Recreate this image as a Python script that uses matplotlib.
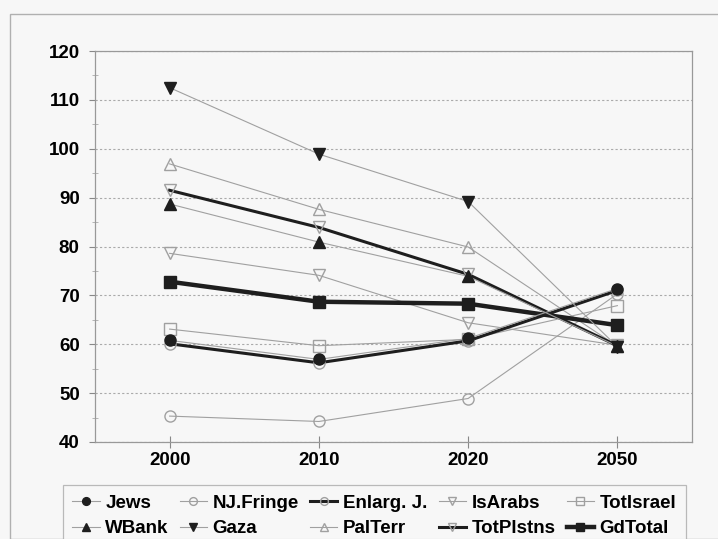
import numpy as np
import matplotlib
matplotlib.use('Agg')
import matplotlib.pyplot as plt
from matplotlib.patches import Rectangle
from matplotlib.ticker import MultipleLocator

plt.rcParams['font.family'] = ['Liberation Sans', 'DejaVu Sans']
plt.rcParams['font.weight'] = 'bold'

years = ['2000', '2010', '2020', '2050']

jews = [60.8, 56.9, 61.2, 71.4]
nj_fringe = [45.3, 44.2, 48.9, 70.3]
enlarg_j = [60.1, 56.2, 60.7, 71.0]
is_arabs = [78.6, 74.1, 64.4, 59.8]
tot_israel = [63.1, 59.7, 61.0, 67.9]
wbank = [88.7, 80.9, 73.9, 59.6]
gaza = [112.5, 98.9, 89.2, 59.5]
pal_terr = [96.9, 87.6, 79.9, 59.6]
tot_plstns = [91.5, 83.9, 74.3, 59.7]
gd_total = [72.8, 68.7, 68.3, 63.9]

dark = '#1e1e1e'
grey = '#a0a0a0'
bg = '#f7f7f7'
fs = 13.5

fig = plt.figure(figsize=(7.18, 5.39), dpi=100, facecolor=bg)
# outer chart frame
fig.patches.append(Rectangle((10 / 718, 0), 1.0, 1 - 14 / 539, transform=fig.transFigure,
                             fill=False, edgecolor='#b0b0b0', linewidth=1.0))

ax = fig.add_axes([95 / 718, 1 - 442 / 539, (692 - 95) / 718, (442 - 51) / 539])
ax.set_facecolor(bg)
x = np.arange(len(years))

ax.plot(x, jews, color=grey, lw=0.8, marker='o', ms=8, mfc=dark, mec=dark, label='Jews', zorder=4)
ax.plot(x, nj_fringe, color=grey, lw=0.8, marker='o', ms=8, mfc='none', mec=grey, label='NJ.Fringe')
ax.plot(x, enlarg_j, color=dark, lw=2.2, marker='o', ms=8, mfc='none', mec=grey, label='Enlarg. J.', zorder=3)
ax.plot(x, is_arabs, color=grey, lw=0.8, marker='v', ms=9, mfc='none', mec=grey, label='IsArabs')
ax.plot(x, tot_israel, color=grey, lw=0.8, marker='s', ms=8, mfc='none', mec=grey, label='TotIsrael')
ax.plot(x, wbank, color=grey, lw=0.8, marker='^', ms=8, mfc=dark, mec=dark, label='WBank', zorder=4)
ax.plot(x, gaza, color=grey, lw=0.8, marker='v', ms=8, mfc=dark, mec=dark, label='Gaza', zorder=4)
ax.plot(x, pal_terr, color=grey, lw=0.8, marker='^', ms=9, mfc='none', mec=grey, label='PalTerr')
ax.plot(x, tot_plstns, color=dark, lw=2.2, marker='v', ms=9, mfc='none', mec=grey, label='TotPlstns', zorder=3)
ax.plot(x, gd_total, color=dark, lw=3.2, marker='s', ms=8, mfc=dark, mec=dark, label='GdTotal', zorder=3)

ax.set_xlim(-0.5, 3.5)
ax.set_ylim(40, 120)
ax.set_xticks(x)
ax.set_xticklabels(years, fontsize=fs, fontweight='bold')
ax.yaxis.set_major_locator(MultipleLocator(10))
ax.yaxis.set_minor_locator(MultipleLocator(5))
ax.tick_params(axis='y', which='major', direction='out', length=4.5, color='#888888',
               labelsize=fs, pad=6.5)
ax.tick_params(axis='y', which='minor', direction='inout', length=5, color='#aaaaaa')
ax.tick_params(axis='x', direction='inout', length=8.6, color='#888888', labelsize=fs, pad=3.2)
for lab in ax.get_yticklabels():
    lab.set_fontweight('bold')
ax.grid(axis='y', which='major', linestyle=(0, (2, 2)), color='#aaaaaa', lw=0.8)
for s in ax.spines.values():
    s.set_color('#999999')
    s.set_linewidth(0.9)

h, l = ax.get_legend_handles_labels()
order = [0, 5, 1, 6, 2, 7, 3, 8, 4, 9]
leg = fig.legend([h[i] for i in order], [l[i] for i in order], ncol=5,
                 loc='upper left', bbox_to_anchor=(63 / 718, 1 - 485 / 539),
                 prop={'size': fs, 'weight': 'bold'}, frameon=True, fancybox=False,
                 edgecolor='#aaaaaa', facecolor=bg, handlelength=1.45, handletextpad=0.3,
                 columnspacing=0.6, borderpad=0.5, labelspacing=0.45, markerscale=0.7,
                 borderaxespad=0)
leg.get_frame().set_linewidth(0.9)

fig.savefig('out.png', dpi=100, facecolor=bg)
